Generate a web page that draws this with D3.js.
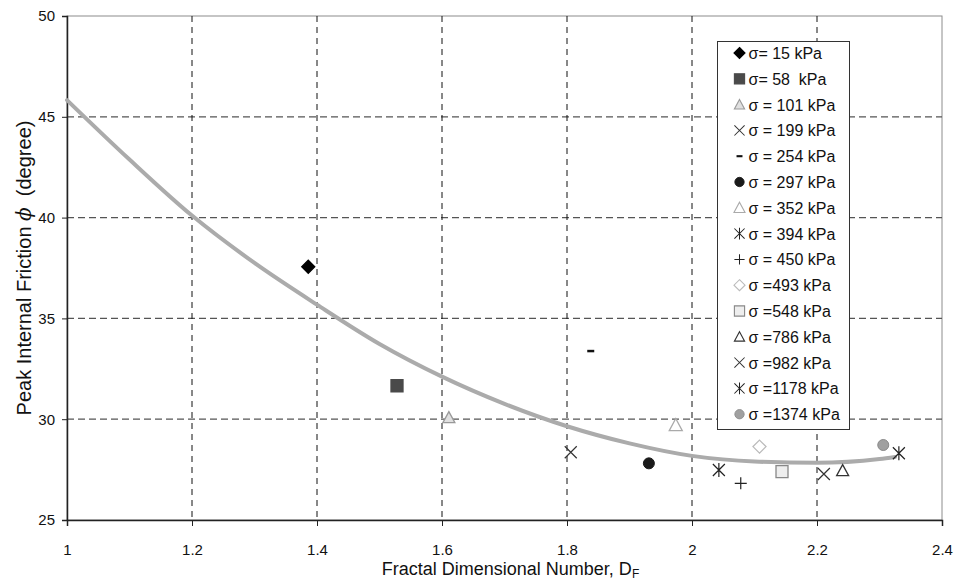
<!DOCTYPE html>
<html lang="en">
<head>
    <meta charset="UTF-8">
    <title>Peak internal friction vs fractal dimension</title>
    <script src="https://cdn.jsdelivr.net/npm/d3@7/dist/d3.min.js"></script>
    <style>
        body { margin: 0; background: #fff; }
        text { font-family: "Liberation Sans", Arial, sans-serif; }
    </style>
</head>
<body>
    <script>
        const width = 954;
        const height = 587;

        // legend labels, one per normal stress (kPa)
        const stressLabels = ['σ= 15 kPa', 'σ= 58  kPa', 'σ = 101 kPa', 'σ = 199 kPa', 'σ = 254 kPa',
            'σ = 297 kPa', 'σ = 352 kPa', 'σ = 394 kPa', 'σ = 450 kPa', 'σ =493 kPa',
            'σ =548 kPa', 'σ =786 kPa', 'σ =982 kPa', 'σ =1178 kPa', 'σ =1374 kPa'];
        // fractal dimension D_F of each test
        const dfValues = [1.386, 1.528, 1.611, 1.806, 1.838, 1.931, 1.974, 2.043, 2.078, 2.108,
            2.144, 2.241, 2.211, 2.331, 2.306];
        // peak friction angle (degree)
        const phiValues = [37.56, 31.66, 30.08, 28.36, 33.38, 27.81, 29.71, 27.48, 26.82, 28.64,
            27.40, 27.45, 27.28, 28.31, 28.72];

        // trend line
        const trendDf = [1.0, 1.1, 1.2, 1.3, 1.4, 1.5, 1.6, 1.7, 1.8, 1.9, 2.0, 2.1, 2.2, 2.3, 2.325];
        const trendPhi = [45.83, 42.88, 40.1, 37.75, 35.68, 33.73, 32.11, 30.76, 29.65, 28.8, 28.18, 27.9, 27.84, 28.03, 28.13];

        const xTicks = [1, 1.2, 1.4, 1.6, 1.8, 2, 2.2, 2.4];
        const yTicks = [25, 30, 35, 40, 45, 50];

        // marker look for each series (same order as the labels)
        const markerStyles = [
            { shape: 'diamond', fill: '#000', stroke: '#000', size: 13 },
            { shape: 'square', fill: '#4a4a4a', stroke: '#4a4a4a', size: 12 },
            { shape: 'triangle', fill: '#e0e0e0', stroke: '#999', size: 12 },
            { shape: 'x', fill: 'none', stroke: '#333', size: 12 },
            { shape: 'dash', fill: 'none', stroke: '#111', size: 7 },
            { shape: 'circle', fill: '#1a1a1a', stroke: '#1a1a1a', size: 12 },
            { shape: 'triangle', fill: '#fff', stroke: '#aaa', size: 13 },
            { shape: 'star', fill: 'none', stroke: '#222', size: 12 },
            { shape: 'plus', fill: 'none', stroke: '#222', size: 12 },
            { shape: 'diamond', fill: '#fff', stroke: '#bbb', size: 13 },
            { shape: 'square', fill: '#eee', stroke: '#888', size: 12 },
            { shape: 'triangle', fill: '#fff', stroke: '#333', size: 12 },
            { shape: 'x', fill: 'none', stroke: '#333', size: 12 },
            { shape: 'star', fill: 'none', stroke: '#222', size: 12 },
            { shape: 'circle', fill: '#a0a0a0', stroke: '#8a8a8a', size: 12 }
        ];

        const margin = { top: 16, right: 12, bottom: 67, left: 67 };
        const plotW = width - margin.left - margin.right;
        const plotH = height - margin.top - margin.bottom;

        const svg = d3.select('body').append('svg')
            .attr('width', width)
            .attr('height', height);

        const g = svg.append('g').attr('transform', `translate(${margin.left},${margin.top})`);

        const x = d3.scaleLinear().domain([1, 2.4]).range([0, plotW]);
        const y = d3.scaleLinear().domain([25, 50]).range([plotH, 0]);

        // plot frame (top / right)
        g.append('rect')
            .attr('width', plotW).attr('height', plotH)
            .attr('fill', 'none').attr('stroke', '#8c8c8c').attr('stroke-width', 1);

        // grid
        g.append('g').selectAll('line')
            .data(yTicks.slice(1, -1))
            .enter().append('line')
            .attr('x1', 0).attr('x2', plotW)
            .attr('y1', d => y(d)).attr('y2', d => y(d))
            .attr('stroke', '#555').attr('stroke-width', 1.3)
            .attr('stroke-dasharray', '7,4');
        g.append('g').selectAll('line')
            .data(xTicks.slice(1, -1))
            .enter().append('line')
            .attr('x1', d => x(d)).attr('x2', d => x(d))
            .attr('y1', 0).attr('y2', plotH)
            .attr('stroke', '#111').attr('stroke-width', 1)
            .attr('stroke-dasharray', '6,5');

        // axes
        const xAxis = g.append('g')
            .attr('transform', `translate(0,${plotH})`)
            .call(d3.axisBottom(x).tickValues(xTicks).tickSize(6).tickPadding(18)
                .tickFormat(d => String(+d.toFixed(1))));
        const yAxis = g.append('g')
            .call(d3.axisLeft(y).tickValues(yTicks).tickSize(5).tickPadding(7));
        [xAxis, yAxis].forEach(a => {
            a.select('.domain').attr('stroke', '#222').attr('stroke-width', 1.5);
            a.selectAll('.tick line').attr('stroke', '#222');
            a.selectAll('.tick text')
                .attr('font-family', '"Liberation Sans", Arial, sans-serif')
                .attr('font-size', 15).attr('fill', '#111');
        });

        // trend line
        const line = d3.line()
            .x((d, i) => x(trendDf[i]))
            .y(d => y(d))
            .curve(d3.curveMonotoneX);
        g.append('path')
            .datum(trendPhi)
            .attr('d', line)
            .attr('fill', 'none')
            .attr('stroke', '#ababab')
            .attr('stroke-width', 4)
            .attr('stroke-linecap', 'round');

        function drawMarker(sel, st) {
            const s = st.size / 2;
            let d;
            if (st.shape === 'diamond') d = `M0,${-s}L${s},0L0,${s}L${-s},0Z`;
            else if (st.shape === 'square') d = `M${-s},${-s}H${s}V${s}H${-s}Z`;
            else if (st.shape === 'triangle') d = `M0,${-s}L${s},${s * 0.85}L${-s},${s * 0.85}Z`;
            else if (st.shape === 'x') d = `M${-s},${-s}L${s},${s}M${s},${-s}L${-s},${s}`;
            else if (st.shape === 'star') d = `M${-s},${-s}L${s},${s}M${s},${-s}L${-s},${s}M0,${-s - 1}V${s + 1}`;
            else if (st.shape === 'plus') d = `M${-s},0H${s}M0,${-s}V${s}`;
            else if (st.shape === 'dash') d = `M${-s},0H${s}`;
            if (st.shape === 'circle') {
                sel.append('circle').attr('r', s - 0.5)
                    .attr('fill', st.fill).attr('stroke', st.stroke).attr('stroke-width', 1);
            } else {
                sel.append('path').attr('d', d)
                    .attr('fill', st.fill).attr('stroke', st.stroke)
                    .attr('stroke-width', st.shape === 'dash' ? 2.5 : (st.fill === 'none' ? 1.2 : 1.3));
            }
        }

        // data points
        g.append('g').selectAll('.pt')
            .data(dfValues)
            .enter().append('g')
            .attr('class', 'pt')
            .attr('transform', (d, i) => `translate(${x(d)},${y(phiValues[i])})`)
            .each(function (d, i) { drawMarker(d3.select(this), markerStyles[i]); });

        // legend
        const legend = svg.append('g').attr('transform', 'translate(717.5,41.5)');
        legend.append('rect')
            .attr('width', 132).attr('height', 388)
            .attr('fill', '#fff').attr('stroke', '#333').attr('stroke-width', 1);
        const rowH = 25.8;
        const rows = legend.selectAll('.lg')
            .data(stressLabels)
            .enter().append('g')
            .attr('class', 'lg')
            .attr('transform', (d, i) => `translate(0,${11.5 + i * rowH})`);
        rows.append('g')
            .attr('transform', 'translate(22,0) scale(0.85)')
            .each(function (d, i) { drawMarker(d3.select(this), markerStyles[i]); });
        rows.append('text')
            .attr('x', 31).attr('y', 6)
            .attr('font-size', 16).attr('fill', '#111')
            .style('white-space', 'pre')
            .text(d => d);

        // axis titles
        const xt = svg.append('text')
            .attr('x', margin.left + plotW / 2 + 6).attr('y', 575)
            .attr('text-anchor', 'middle')
            .attr('font-size', 18).attr('fill', '#111');
        xt.append('tspan').text('Fractal Dimensional Number, D');
        xt.append('tspan').attr('font-size', 12).attr('dy', 3).text('F');

        const yt = svg.append('text')
            .attr('transform', `translate(31,${margin.top + plotH / 2}) rotate(-90)`)
            .attr('text-anchor', 'middle')
            .attr('font-size', 20).attr('fill', '#111')
            .style('white-space', 'pre');
        yt.append('tspan').text('Peak Internal Friction ');
        yt.append('tspan').attr('font-style', 'italic').attr('font-family', '"DejaVu Serif", serif').text('ϕ');
        yt.append('tspan').text('  (degree)');
    </script>
</body>
</html>
